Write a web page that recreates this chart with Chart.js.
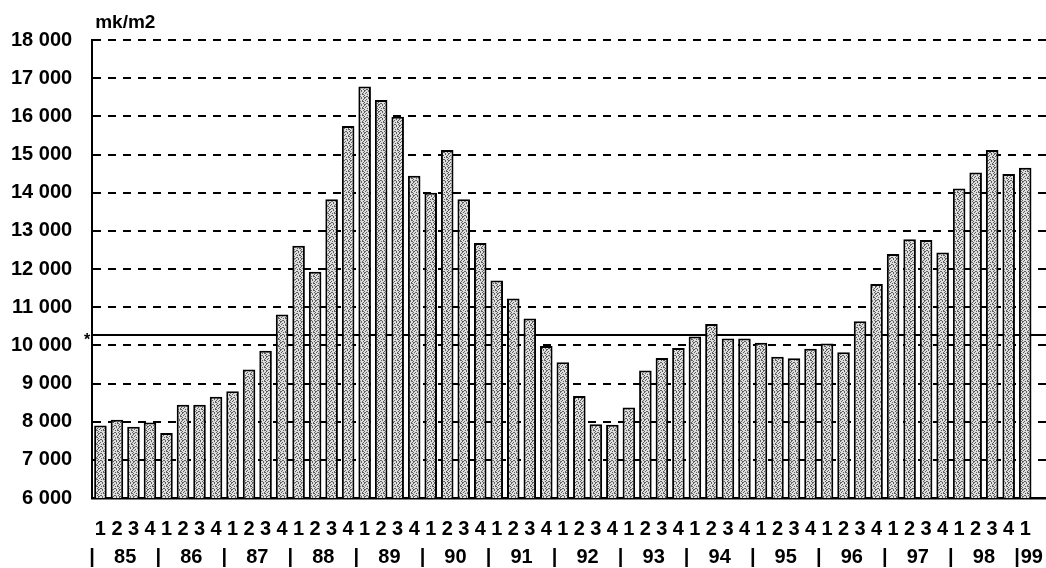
<!DOCTYPE html>
<html><head><meta charset="utf-8">
<script src="https://cdn.jsdelivr.net/npm/chart.js@4/dist/chart.umd.min.js"></script>
<style>html,body{margin:0;padding:0;background:#fff}#wrap{width:1046px;height:568px;position:relative}</style>
</head><body><div id="wrap"><canvas id="c"></canvas></div>
<script>
// ---- data ----
const QUARTER_LABELS = [
  '1','2','3','4', '1','2','3','4', '1','2','3','4', '1','2','3','4',
  '1','2','3','4', '1','2','3','4', '1','2','3','4', '1','2','3','4',
  '1','2','3','4', '1','2','3','4', '1','2','3','4', '1','2','3','4',
  '1','2','3','4', '1','2','3','4', '1'
];
const YEAR_LABELS = ['85','86','87','88','89','90','91','92','93','94','95','96','97','98','99'];
const PRICES = [
  7900, 8050, 7870, 7980,
  7700, 8440, 8440, 8650,
  8800, 9370, 9860, 10810,
  12610, 11930, 13830, 15750,
  16780, 16430, 15990, 14440,
  14000, 15120, 13830, 12680,
  11700, 11230, 10700, 9980,
  9560, 8670, 7930, 7920,
  8370, 9340, 9670, 9930,
  10230, 10560, 10180, 10180,
  10070, 9700, 9660, 9910,
  10050, 9820, 10630, 11610,
  12390, 12780, 12760, 12430,
  14110, 14530, 15120, 14490,
  14650
];
const REFERENCE_LEVEL = 10270;
const REF_MARK = '*';
const UNIT_LABEL = 'mk/m2';
const Y_MIN = 6000, Y_MAX = 18000, Y_STEP = 1000;

// ---- helpers ----
const FONT = '"Liberation Sans", Arial, sans-serif';
Chart.defaults.font.family = FONT;
Chart.defaults.color = '#000';

const groups = [];
QUARTER_LABELS.forEach((q, i) => {
  if (q === '1') groups.push({start: i, end: i});
  else groups[groups.length - 1].end = i;
});
groups.forEach((g, k) => g.label = YEAR_LABELS[k]);

const X_MIN = -0.5, X_MAX = QUARTER_LABELS.length + 0.26;

const yearTicks = [];
groups.forEach(g => {
  yearTicks.push({value: g.start - 0.5, label: '|'});
  const n = g.end - g.start + 1;
  yearTicks.push({value: n < 4 ? g.start + 0.4 : (g.start + g.end) / 2, label: g.label});
});

const fmt = v => String(v).replace(/\B(?=(\d{3})+(?!\d))/g, ' ');

// stipple fill
function makePattern() {
  const c = document.createElement('canvas');
  c.width = 7; c.height = 7;
  const g = c.getContext('2d');
  g.fillStyle = '#dedede'; g.fillRect(0, 0, 7, 7);
  g.fillStyle = '#5e5e5e';
  [[0,0],[4,0],[2,1],[6,1],[1,2],[5,3],[3,3],[0,4],[6,5],[2,5],[4,6],[1,6],[5,2],[3,5],[6,3],[0,6]]
    .forEach(([x, y]) => g.fillRect(x, y, 1, 1));
  return g.createPattern(c, 'repeat');
}

const refPlugin = {
  id: 'refline',
  beforeDatasetsDraw(chart) {
    const {ctx, chartArea: a, scales: {y}} = chart;
    const py = y.getPixelForValue(REFERENCE_LEVEL);
    ctx.save();
    ctx.strokeStyle = '#000'; ctx.lineWidth = 2;
    ctx.beginPath(); ctx.moveTo(a.left, py); ctx.lineTo(a.right, py); ctx.stroke();
    ctx.fillStyle = '#000';
    ctx.font = 'bold 16px ' + FONT;
    ctx.textAlign = 'right'; ctx.textBaseline = 'middle';
    ctx.fillText(REF_MARK, a.left - 2, py + 6);
    ctx.restore();
  },
  afterDraw(chart) {
    const {ctx, chartArea: a} = chart;
    ctx.save();
    ctx.fillStyle = '#000';
    ctx.font = 'bold 19px ' + FONT;
    ctx.textAlign = 'left'; ctx.textBaseline = 'alphabetic';
    ctx.fillText(UNIT_LABEL, a.left + 3, a.top - 12);
    ctx.restore();
  }
};

new Chart(document.getElementById('c'), {
  type: 'bar',
  data: {
    datasets: [{
      data: PRICES.map((v, i) => ({x: i, y: v})),
      backgroundColor: makePattern(),
      borderColor: '#000',
      borderWidth: 2,
      barPercentage: 0.76,
      categoryPercentage: 1
    }]
  },
  options: {
    responsive: true, maintainAspectRatio: false, animation: false,
    layout: {padding: {top: 40, left: 11, right: 0, bottom: 1}},
    plugins: {legend: {display: false}, tooltip: {enabled: false}},
    scales: {
      x: {
        type: 'linear', position: 'bottom', min: X_MIN, max: X_MAX, bounds: 'data', offset: false,
        grid: {display: false, drawTicks: true, tickLength: 19},
        border: {display: true, color: '#000', width: 2.5},
        afterBuildTicks: s => { s.ticks = QUARTER_LABELS.map((q, i) => ({value: i})); },
        ticks: {autoSkip: false, maxRotation: 0, minRotation: 0, padding: 0,
          font: {size: 20, weight: 'bold'}, callback: (v, i) => QUARTER_LABELS[i]}
      },
      x2: {
        type: 'linear', position: 'bottom', min: X_MIN, max: X_MAX, bounds: 'data', offset: false,
        grid: {display: false, drawTicks: true, tickLength: 6},
        border: {display: false},
        afterBuildTicks: s => { s.ticks = yearTicks.map(t => ({value: t.value})); },
        ticks: {autoSkip: false, maxRotation: 0, minRotation: 0, padding: 0,
          font: {size: 20, weight: 'bold', lineHeight: 1}, callback: (v, i) => yearTicks[i].label}
      },
      y: {
        min: Y_MIN, max: Y_MAX,
        grid: {color: '#000', lineWidth: 2, drawTicks: true, tickLength: 20, tickWidth: 0},
        border: {display: true, color: '#000', width: 2, dash: [8, 7]},
        ticks: {stepSize: Y_STEP, padding: 0, font: {size: 20, weight: 'bold'}, callback: v => fmt(v)}
      }
    }
  },
  plugins: [refPlugin]
});
</script>
</body></html>
